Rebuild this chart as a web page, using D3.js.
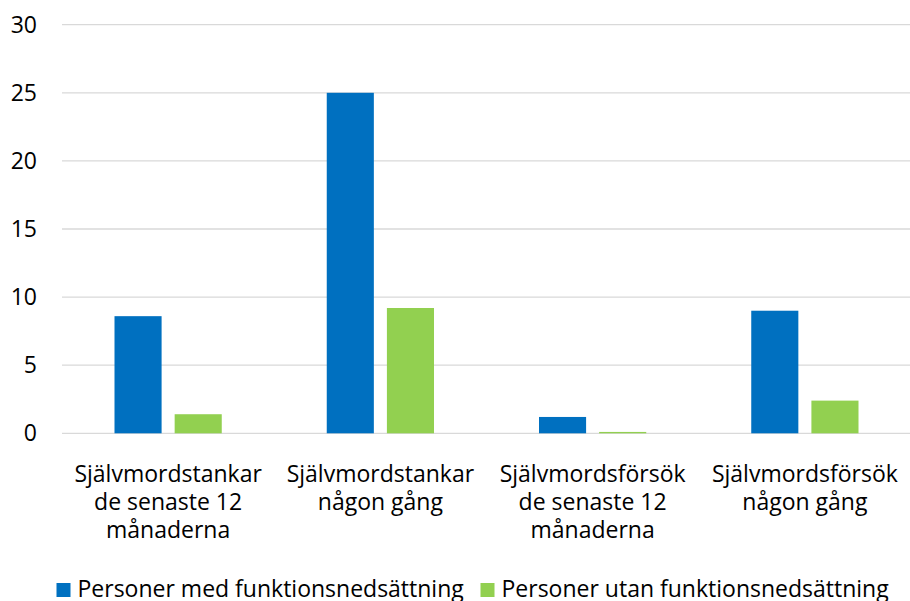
<!DOCTYPE html>
<html>
<head>
<meta charset="utf-8">
<script src="https://cdn.jsdelivr.net/npm/d3@7"></script>
<style>
  body { margin: 0; background: #fff; }
  text { font-family: "Open Sans", sans-serif; fill: #000; }
</style>
</head>
<body>
<div id="chart"></div>
<script>
// chart values
var categories = [
    ["Självmordstankar", "de senaste 12", "månaderna"],
    ["Självmordstankar", "någon gång"],
    ["Självmordsförsök", "de senaste 12", "månaderna"],
    ["Självmordsförsök", "någon gång"]
];
var seriesNames = ["Personer med funktionsnedsättning", "Personer utan funktionsnedsättning"];
var withDisability = [8.6, 25, 1.2, 9.0];
var withoutDisability = [1.4, 9.2, 0.1, 2.4];
var yTicks = [0, 5, 10, 15, 20, 25, 30];
var colors = ["#0070C0", "#92D050"];

var width = 910, height = 601;
var margin = {top: 24.7, right: -1, bottom: 167.7, left: 62};
var innerW = width - margin.left - margin.right,
    innerH = height - margin.top - margin.bottom;

var svg = d3.select("#chart").append("svg")
    .attr("width", width)
    .attr("height", height);

var g = svg.append("g")
    .attr("transform", "translate(" + margin.left + "," + margin.top + ")");

var x0 = d3.scaleBand()
    .domain(d3.range(categories.length))
    .range([0, innerW]);

// bars 47px with 13px gap inside a 212px group
var x1 = d3.scaleBand()
    .domain([0, 1])
    .range([52.5, x0.bandwidth() - 52.5])
    .paddingInner(0.217);

var y = d3.scaleLinear()
    .domain([0, 30])
    .range([innerH, 0]);

// gridlines
g.selectAll(".grid")
    .data(yTicks)
    .enter().append("line")
    .attr("class", "grid")
    .attr("x1", 0)
    .attr("x2", innerW)
    .attr("y1", function(d) { return y(d); })
    .attr("y2", function(d) { return y(d); })
    .attr("stroke", "#d9d9d9")
    .attr("stroke-width", 1.3);

// y tick labels
var yAxis = g.append("g")
    .call(d3.axisLeft(y).tickValues(yTicks).tickSize(0).tickPadding(25));
yAxis.select(".domain").remove();
yAxis.selectAll("text")
    .attr("font-size", "23px")
    .attr("font-family", "Open Sans")
    .attr("fill", "#000");

var data = categories.map(function(c, i) {
    return [withDisability[i], withoutDisability[i]];
});

var groups = g.selectAll(".cat")
    .data(data)
    .enter().append("g")
    .attr("class", "cat")
    .attr("transform", function(d, i) { return "translate(" + x0(i) + ",0)"; });

groups.selectAll("rect")
    .data(function(d) { return d; })
    .enter().append("rect")
    .attr("x", function(d, j) { return x1(j); })
    .attr("width", x1.bandwidth())
    .attr("y", function(d) { return y(d); })
    .attr("height", function(d) { return y(0) - y(d); })
    .attr("fill", function(d, j) { return colors[j]; });

// category labels
var labels = g.selectAll(".xlabel")
    .data(categories)
    .enter().append("text")
    .attr("class", "xlabel")
    .attr("text-anchor", "middle")
    .attr("font-size", "23px")
    .attr("transform", function(d, i) {
        return "translate(" + (x0(i) + x0.bandwidth() / 2) + "," + (innerH + 49) + ")";
    });

labels.selectAll("tspan")
    .data(function(d) { return d; })
    .enter().append("tspan")
    .attr("x", 0)
    .attr("dy", function(d, i) { return i === 0 ? 0 : 28; })
    .text(function(d) { return d; });

// legend
var legendPos = [56.5, 480.5];
var legend = svg.selectAll(".legend")
    .data(seriesNames)
    .enter().append("g")
    .attr("class", "legend")
    .attr("transform", function(d, i) { return "translate(" + legendPos[i] + ",583)"; });

legend.append("rect")
    .attr("width", 14)
    .attr("height", 14)
    .attr("fill", function(d, i) { return colors[i]; });

legend.append("text")
    .attr("x", 21)
    .attr("y", 14)
    .attr("font-size", "23px")
    .text(function(d) { return d; });
</script>
</body>
</html>
